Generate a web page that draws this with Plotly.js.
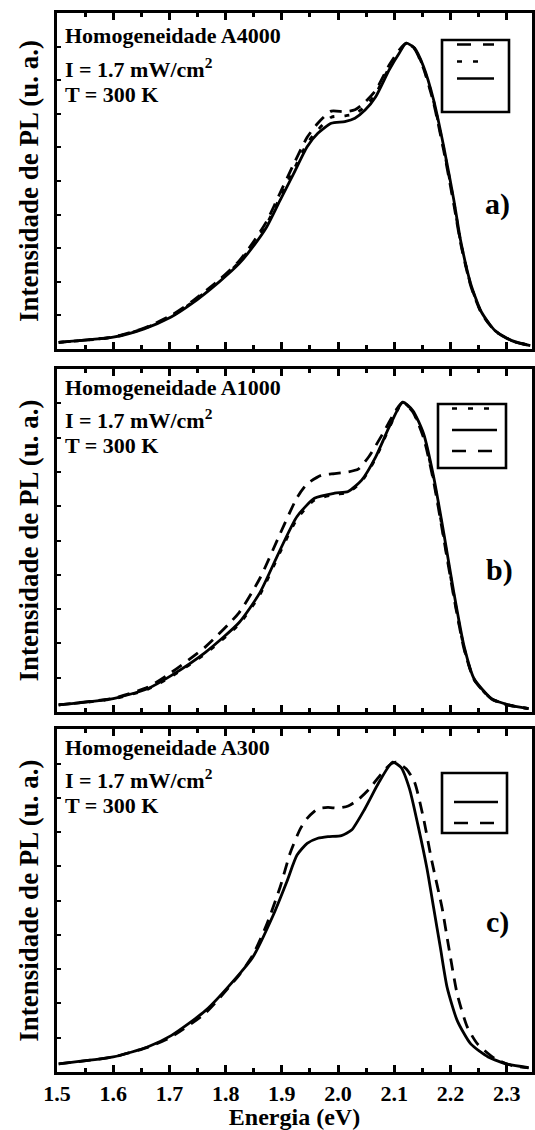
<!DOCTYPE html>
<html>
<head>
<meta charset="utf-8">
<script src="https://cdn.plot.ly/plotly-3.0.1.min.js"></script>
<style>html,body{margin:0;padding:0;background:#fff;}</style>
</head>
<body>
<div id="chart" style="width:535px;height:1130px;"></div>
<script>
// ---------- Data (normalized PL intensity) ----------
// Panel a) Homogeneidade A4000
const aE_solid = [1.503,1.600,1.655,1.703,1.739,1.788,1.824,1.848,1.873,1.897,1.921,1.945,1.964,1.988,2.012,2.030,2.048,2.067,2.091,2.109,2.121,2.136,2.152,2.170,2.188,2.206,2.218,2.236,2.255,2.279,2.309,2.342];
const aI_solid = [0.020,0.035,0.060,0.095,0.134,0.199,0.254,0.303,0.363,0.443,0.522,0.602,0.642,0.672,0.677,0.687,0.711,0.751,0.831,0.881,0.910,0.896,0.841,0.741,0.602,0.443,0.323,0.194,0.110,0.055,0.025,0.010];
const aE_dash = [1.503,1.600,1.655,1.703,1.739,1.788,1.824,1.848,1.873,1.897,1.921,1.945,1.964,1.988,2.012,2.030,2.048,2.067,2.091,2.109,2.121,2.136,2.152,2.170,2.188,2.206,2.218,2.236,2.255,2.279,2.309,2.342];
const aI_dash = [0.020,0.036,0.062,0.100,0.140,0.205,0.262,0.315,0.380,0.465,0.550,0.630,0.672,0.708,0.706,0.712,0.735,0.770,0.845,0.890,0.910,0.893,0.835,0.732,0.590,0.430,0.315,0.188,0.107,0.054,0.024,0.010];
const aE_dot = [1.503,1.600,1.655,1.703,1.739,1.788,1.824,1.848,1.873,1.897,1.921,1.945,1.964,1.988,2.012,2.030,2.048,2.067,2.091,2.109,2.121,2.136,2.152,2.170,2.188,2.206,2.218,2.236,2.255,2.279,2.309,2.342];
const aI_dot = [0.020,0.035,0.061,0.097,0.137,0.202,0.258,0.309,0.372,0.452,0.533,0.612,0.652,0.690,0.694,0.700,0.722,0.760,0.838,0.885,0.910,0.895,0.838,0.737,0.596,0.437,0.319,0.191,0.108,0.055,0.025,0.010];

// Panel b) Homogeneidade A1000
const bE_solid = [1.503,1.600,1.661,1.703,1.764,1.824,1.861,1.897,1.927,1.958,1.994,2.018,2.042,2.067,2.091,2.115,2.133,2.152,2.170,2.188,2.206,2.224,2.242,2.273,2.303,2.339];
const bI_solid = [0.021,0.039,0.068,0.106,0.174,0.261,0.348,0.473,0.570,0.623,0.638,0.643,0.676,0.744,0.831,0.903,0.879,0.812,0.686,0.522,0.348,0.193,0.097,0.039,0.021,0.010];
const bE_dash = [1.503,1.600,1.661,1.703,1.764,1.824,1.861,1.897,1.927,1.945,1.970,1.994,2.018,2.036,2.055,2.079,2.103,2.115,2.133,2.152,2.170,2.188,2.206,2.224,2.242,2.273,2.303,2.339];
const bI_dash = [0.021,0.040,0.072,0.115,0.190,0.290,0.390,0.520,0.625,0.665,0.690,0.695,0.700,0.708,0.745,0.810,0.880,0.903,0.875,0.800,0.672,0.505,0.335,0.185,0.094,0.038,0.020,0.010];
const bE_dot = [1.503,1.600,1.661,1.703,1.764,1.824,1.861,1.897,1.927,1.958,1.994,2.018,2.042,2.067,2.091,2.115,2.133,2.152,2.170,2.188,2.206,2.224,2.242,2.273,2.303,2.339];
const bI_dot = [0.021,0.038,0.066,0.103,0.170,0.256,0.342,0.466,0.563,0.618,0.634,0.640,0.672,0.740,0.828,0.903,0.876,0.806,0.678,0.512,0.340,0.188,0.095,0.038,0.021,0.010];

// Panel c) Homogeneidade A300
const cE_solid = [1.503,1.600,1.661,1.703,1.764,1.824,1.848,1.885,1.909,1.927,1.945,1.964,1.982,2.006,2.024,2.048,2.073,2.097,2.112,2.127,2.142,2.158,2.170,2.182,2.194,2.212,2.236,2.267,2.303,2.339];
const cI_solid = [0.024,0.044,0.073,0.106,0.179,0.285,0.334,0.459,0.556,0.633,0.667,0.682,0.687,0.690,0.706,0.769,0.846,0.904,0.889,0.827,0.721,0.595,0.479,0.363,0.247,0.150,0.082,0.044,0.022,0.013];
const cE_dash = [1.503,1.600,1.661,1.703,1.764,1.824,1.848,1.873,1.897,1.915,1.933,1.945,1.964,1.982,2.000,2.018,2.036,2.055,2.073,2.091,2.103,2.121,2.136,2.152,2.167,2.185,2.197,2.212,2.230,2.248,2.279,2.309,2.339];
const cI_dash = [0.024,0.044,0.072,0.102,0.172,0.283,0.340,0.430,0.540,0.640,0.710,0.740,0.768,0.772,0.770,0.776,0.795,0.825,0.862,0.895,0.904,0.885,0.846,0.740,0.614,0.479,0.363,0.227,0.131,0.082,0.039,0.019,0.012];

const xTickVals = [1.5,1.6,1.7,1.8,1.9,2.0,2.1,2.2,2.3];
const xTickText = ['1.5','1.6','1.7','1.8','1.9','2.0','2.1','2.2','2.3'];
const panelTitles = ['Homogeneidade A4000','Homogeneidade A1000','Homogeneidade A300'];
const panelLabels = ['a)','b)','c)'];
const intensityText = 'I = 1.7 mW/cm<sup>2</sup>';
const tempText = 'T = 300 K';
const xTitle = 'Energia (eV)';
const yTitle = 'Intensidade de PL (u. a.)';

// ---------- Layout helpers ----------
const W = 535, H = 1130;
const M = {l:57, r:3, t:13, b:58};
const PW = W - M.l - M.r, PH = H - M.t - M.b;
const px = x => (x - M.l) / PW;
const py = y => (H - M.b - y) / PH;
const FONT = "'Liberation Serif', 'Times New Roman', Times, 'DejaVu Serif', serif";
const SOLID = 'solid', DASH = '12px,8px', DOT = '5px,10px';

function tr(x, y, dash, xa, ya) {
  return {x: x, y: y, type: 'scatter', mode: 'lines', xaxis: xa, yaxis: ya,
          line: {color: '#000', width: 2.8, dash: dash, shape: 'spline', smoothing: 0.6},
          showlegend: false, hoverinfo: 'skip'};
}

const data = [
  tr(aE_dash, aI_dash, DASH, 'x3', 'y3'),
  tr(aE_dot, aI_dot, DOT, 'x3', 'y3'),
  tr(aE_solid, aI_solid, SOLID, 'x3', 'y3'),
  tr(bE_dot, bI_dot, DOT, 'x2', 'y2'),
  tr(bE_dash, bI_dash, DASH, 'x2', 'y2'),
  tr(bE_solid, bI_solid, SOLID, 'x2', 'y2'),
  tr(cE_dash, cI_dash, DASH, 'x', 'y'),
  tr(cE_solid, cI_solid, SOLID, 'x', 'y')
];

function xax(anchor, labels) {
  const ax = {
    anchor: anchor, range: [1.5, 2.345], showgrid: false, zeroline: false,
    showline: true, linecolor: '#000', linewidth: 3, mirror: 'allticks',
    ticks: 'inside', ticklen: 7, tickwidth: 3, tickcolor: '#000',
    tickvals: xTickVals, ticktext: xTickText, showticklabels: labels,
    tickfont: {family: FONT, size: 22, color: '#000', weight: 'bold'},
    minor: {ticks: 'inside', dtick: 0.05, tick0: 1.5, ticklen: 4, tickwidth: 3, tickcolor: '#000', showgrid: false}
  };
  if (labels) ax.title = {text: xTitle, font: {family: FONT, size: 24, color: '#000', weight: 'bold'}, standoff: 7};
  return ax;
}
function yax(domain) {
  return {
    domain: domain, range: [0, 1], showgrid: false, zeroline: false,
    showline: true, linecolor: '#000', linewidth: 3, mirror: true,
    ticks: 'inside', ticklen: 4, tickwidth: 2, tickcolor: '#000', dtick: 0.1, tick0: 0,
    showticklabels: false, automargin: false,
    title: {text: yTitle, font: {family: FONT, size: 27, color: '#000', weight: 'bold'}, standoff: 8}
  };
}

const annotations = [];
const textRows = [
  [36, 68, 94.5],
  [387.5, 419, 446],
  [747, 778.5, 805]
];
const labelPos = [[497, 204], [499, 570], [497, 922]];
for (let i = 0; i < 3; i++) {
  const rows = [panelTitles[i], intensityText, tempText];
  rows.forEach((t, k) => annotations.push({
    text: t, xref: 'paper', yref: 'paper', x: px(63), y: py(textRows[i][k]),
    xanchor: 'left', yanchor: 'middle', showarrow: false,
    font: {family: FONT, size: 22, color: '#000', weight: 'bold'}
  }));
  annotations.push({
    text: panelLabels[i], xref: 'paper', yref: 'paper', x: px(labelPos[i][0]), y: py(labelPos[i][1]),
    xanchor: 'center', yanchor: 'middle', showarrow: false,
    font: {family: FONT, size: 30, color: '#000', weight: 'bold'}
  });
}

// Legend boxes (line samples only, no text, as in the original)
const shapes = [];
function box(x0, y0, x1, y1) {
  shapes.push({type: 'rect', xref: 'paper', yref: 'paper', x0: px(x0), x1: px(x1), y0: py(y1), y1: py(y0),
               line: {color: '#000', width: 2.6}, fillcolor: 'rgba(0,0,0,0)'});
}
function sample(x0, x1, y, dash) {
  shapes.push({type: 'line', xref: 'paper', yref: 'paper', x0: px(x0), x1: px(x1), y0: py(y), y1: py(y),
               line: {color: '#000', width: 2.6, dash: dash}});
}
box(442, 40, 509, 112);
sample(457, 494, 44.5, '14px,12px');
sample(457, 481, 61.5, '5px,11px');
sample(457, 494, 78.5, 'solid');
box(438, 404, 506, 468);
sample(452, 492, 408.5, '5px,11px');
sample(452, 497, 430, 'solid');
sample(452, 495, 451, '14px,12px');
box(442, 773, 507, 833);
sample(454, 498, 802, 'solid');
sample(454, 498, 823, '14px,12px');

const layout = {
  width: W, height: H, margin: M, paper_bgcolor: '#fff', plot_bgcolor: '#fff',
  showlegend: false, font: {family: FONT, color: '#000'},
  xaxis: xax('y', true), xaxis2: xax('y2', false), xaxis3: xax('y3', false),
  yaxis: yax([0, py(729.3)]), yaxis2: yax([py(712), py(369)]), yaxis3: yax([py(349), 1]),
  annotations: annotations, shapes: shapes
};
Plotly.newPlot('chart', data, layout, {displayModeBar: false, staticPlot: true});
</script>
</body>
</html>
